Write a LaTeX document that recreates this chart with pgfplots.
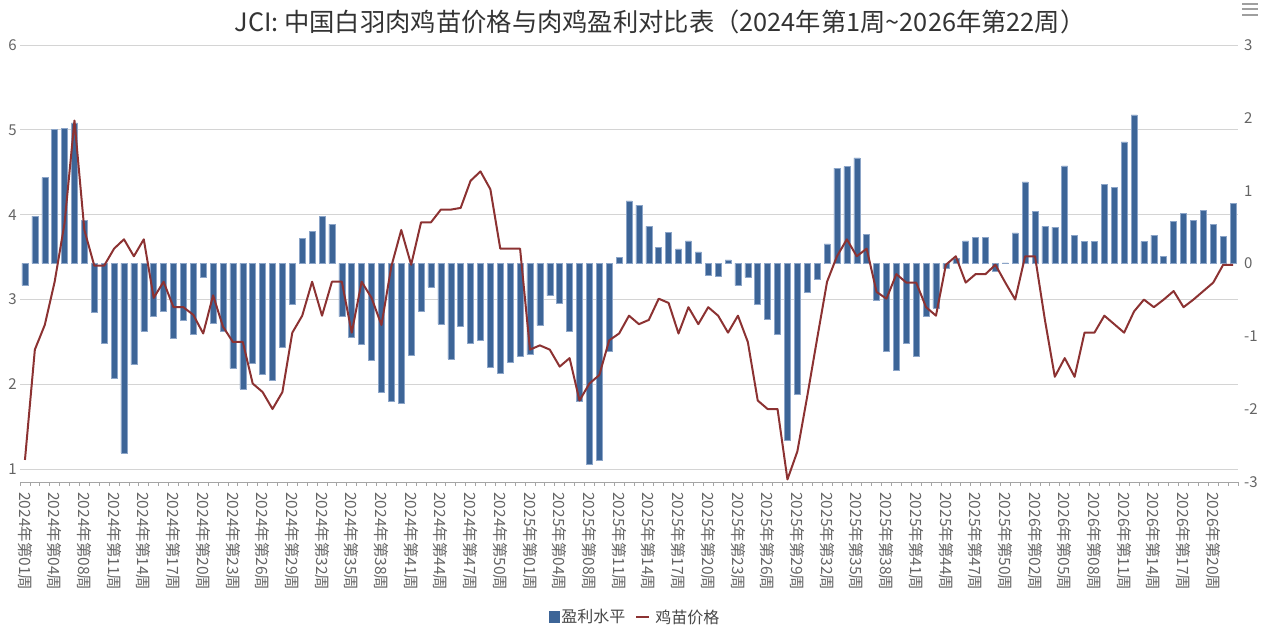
\documentclass[border=0pt]{standalone}
\usepackage{fontspec}
\setmainfont{Noto Sans CJK SC}
\usepackage{pgfplots}
\usepackage{pgfplotstable}
\pgfplotsset{compat=1.18}
\definecolor{barFill}{RGB}{61,101,151}
\definecolor{barEdge}{RGB}{140,165,200}
\definecolor{lineRed}{RGB}{140,50,50}
\definecolor{gridGray}{RGB}{212,212,212}
\definecolor{axisGray}{RGB}{165,165,165}
\definecolor{tickText}{RGB}{100,100,100}
\definecolor{titleText}{RGB}{51,51,51}
\definecolor{legendText}{RGB}{70,70,70}

\pgfplotstableread{
x bar price
0 -0.30 1.11
1 0.65 2.41
2 1.18 2.70
3 1.84 3.21
4 1.86 3.90
5 1.93 5.11
6 0.59 3.82
7 -0.67 3.40
8 -1.09 3.40
9 -1.58 3.60
10 -2.60 3.71
11 -1.39 3.51
12 -0.93 3.71
13 -0.72 3.02
14 -0.66 3.21
15 -1.02 2.91
16 -0.78 2.91
17 -0.97 2.82
18 -0.19 2.60
19 -0.82 3.05
20 -0.93 2.68
21 -1.44 2.50
22 -1.72 2.50
23 -1.37 2.01
24 -1.52 1.91
25 -1.60 1.71
26 -1.15 1.91
27 -0.56 2.61
28 0.35 2.81
29 0.44 3.21
30 0.65 2.81
31 0.54 3.21
32 -0.73 3.21
33 -1.01 2.61
34 -1.11 3.21
35 -1.33 3.02
36 -1.77 2.70
37 -1.89 3.39
38 -1.92 3.82
39 -1.26 3.41
40 -0.66 3.91
41 -0.32 3.91
42 -0.83 4.06
43 -1.31 4.06
44 -0.86 4.08
45 -1.09 4.40
46 -1.05 4.51
47 -1.43 4.30
48 -1.51 3.60
49 -1.36 3.60
50 -1.27 3.60
51 -1.25 2.41
52 -0.85 2.46
53 -0.44 2.41
54 -0.55 2.21
55 -0.93 2.31
56 -1.89 1.81
57 -2.76 2.01
58 -2.70 2.11
59 -1.20 2.52
60 0.08 2.60
61 0.86 2.81
62 0.80 2.71
63 0.51 2.76
64 0.22 3.01
65 0.43 2.96
66 0.20 2.60
67 0.31 2.91
68 0.16 2.71
69 -0.16 2.91
70 -0.17 2.81
71 0.05 2.61
72 -0.30 2.81
73 -0.19 2.50
74 -0.56 1.81
75 -0.76 1.71
76 -0.97 1.71
77 -2.43 0.88
78 -1.79 1.21
79 -0.40 1.86
80 -0.22 2.54
81 0.27 3.21
82 1.31 3.51
83 1.33 3.71
84 1.45 3.51
85 0.40 3.60
86 -0.50 3.09
87 -1.20 3.01
88 -1.47 3.30
89 -1.09 3.20
90 -1.27 3.20
91 -0.72 2.91
92 -0.61 2.81
93 -0.07 3.41
94 0.07 3.51
95 0.31 3.20
96 0.36 3.30
97 0.36 3.30
98 -0.10 3.41
99 0.01 3.20
100 0.42 3.00
101 1.12 3.51
102 0.72 3.51
103 0.51 2.76
104 0.50 2.09
105 1.34 2.31
106 0.39 2.09
107 0.30 2.61
108 0.30 2.61
109 1.09 2.81
110 1.05 2.71
111 1.67 2.61
112 2.04 2.86
113 0.30 3.00
114 0.39 2.91
115 0.10 3.00
116 0.58 3.10
117 0.69 2.91
118 0.59 3.00
119 0.73 3.10
120 0.54 3.20
121 0.37 3.41
122 0.83 3.41
}\datatable

\begin{document}
\begin{tikzpicture}
\useasboundingbox (0,0) rectangle (1268bp,638bp);
\pgfplotsset{common/.style={
  at={(20bp,156bp)}, anchor=south west, scale only axis,
  width=1218bp, height=437bp, xmin=-0.5, xmax=122.5,
  /pgf/number format/assume math mode=true,
  tick label style={font=\fontsize{15bp}{17bp}\selectfont, text=tickText}}}
% base axis: left ticks, grid, x labels
\begin{axis}[common, ymin=0.85, ymax=6, ytick={1,2,3,4,5,6},
  ymajorgrids, grid style={gridGray, line width=0.8bp},
  axis x line*=bottom, axis y line*=left,
  y axis line style={draw=none},
  x axis line style={axisGray, line width=0.8bp},
  xtick={0,3,...,120},
  xticklabels={2024年第01周,2024年第04周,2024年第08周,2024年第11周,2024年第14周,2024年第17周,2024年第20周,2024年第23周,2024年第26周,2024年第29周,2024年第32周,2024年第35周,2024年第38周,2024年第41周,2024年第44周,2024年第47周,2024年第50周,2025年第01周,2025年第04周,2025年第08周,2025年第11周,2025年第14周,2025年第17周,2025年第20周,2025年第23周,2025年第26周,2025年第29周,2025年第32周,2025年第35周,2025年第38周,2025年第41周,2025年第44周,2025年第47周,2025年第50周,2026年第02周,2026年第05周,2026年第08周,2026年第11周,2026年第14周,2026年第17周,2026年第20周},
  minor xtick={-0.5,0.5,...,122.5},
  tick align=outside, major tick length=0pt, minor tick length=4bp,
  minor tick style={axisGray, line width=0.8bp},
  xticklabel style={font=\fontsize{15.5bp}{17bp}\selectfont, yshift=-10bp, rotate=-90, anchor=west, inner sep=0pt},
  yticklabel style={anchor=east, inner sep=0pt, xshift=-3bp}]
\addplot[draw=none] coordinates {(0,1)};
\end{axis}
% bar axis: right
\begin{axis}[common, ymin=-3, ymax=3, ytick={-3,-2,-1,0,1,2,3},
  axis y line*=right, axis x line=none, xtick=\empty,
  y axis line style={draw=none}, major tick length=0pt,
  yticklabel style={anchor=west, inner sep=0pt, xshift=6bp}]
\addplot[ybar, bar width=6bp, fill=barFill, draw=barEdge, line width=0.5bp] table[x=x, y=bar] {\datatable};
\end{axis}
% line axis
\begin{axis}[common, ymin=0.85, ymax=6, hide axis,
  legend style={at={(0.505,-0.309)}, anchor=center, draw=none, fill=none,
    legend columns=2, font=\fontsize{16bp}{18bp}\selectfont, text=legendText,
    /tikz/every even column/.append style={column sep=8bp}},
  legend cell align=left]
\addlegendimage{legend image code/.code={\fill[barFill] (0bp,-5.5bp) rectangle (10bp,5.5bp);}}
\addlegendentry{盈利水平}
\addplot[lineRed, line width=2bp, mark=none, sharp plot, line join=round,
  legend image code/.code={\draw[lineRed, line width=2bp] (0bp,0bp) -- (13bp,0bp); \path (16bp,0bp);}]
  table[x=x, y=price] {\datatable};
\addlegendentry{鸡苗价格}
\end{axis}
\node[font=\fontsize{25.3bp}{28bp}\selectfont, text=titleText, anchor=center] at (660bp,616bp) {JCI: 中国白羽肉鸡苗价格与肉鸡盈利对比表（2024年第1周{\char"007E}2026年第22周）};
\draw[gray!75, line width=1.6bp] (1242bp,633.7bp) -- (1258bp,633.7bp);
\draw[gray!75, line width=1.6bp] (1242bp,628.7bp) -- (1258bp,628.7bp);
\draw[gray!75, line width=1.6bp] (1242bp,623bp) -- (1258bp,623bp);
\end{tikzpicture}
\end{document}
